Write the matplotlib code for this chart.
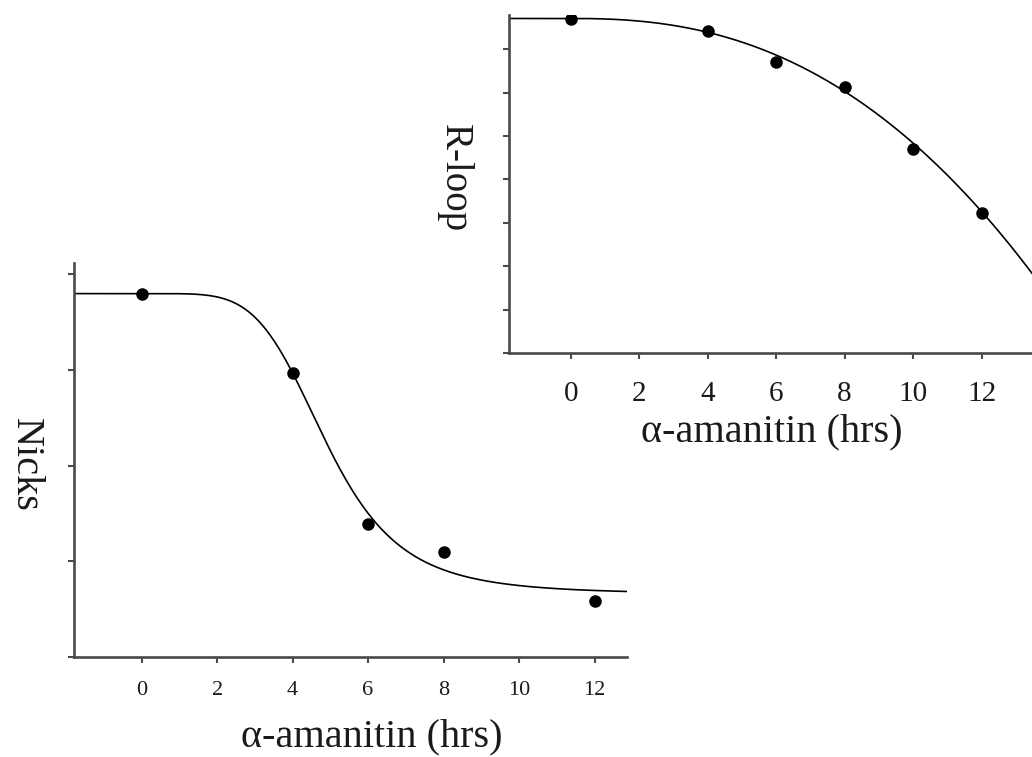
import numpy as np
import matplotlib
matplotlib.use("Agg")
import matplotlib.pyplot as plt

plt.rcParams['font.family'] = ['Liberation Serif', 'DejaVu Serif']

hours = [0, 4, 6, 8, 12]
nicks = [3.80, 2.97, 1.39, 1.10, 0.59]

rloop_hours = [0, 4, 6, 8, 10, 12]
rloop = [7.70, 7.42, 6.70, 6.12, 4.70, 3.23]

tick_hours = [0, 2, 4, 6, 8, 10, 12]

# fit parameters of the drawn curves
nick_top, nick_bottom, nick_x0, nick_p = 3.80, 0.66, 4.91, 5.0   # logistic fit
rloop_top, rloop_k, rloop_p = 7.71, 0.01144, 2.4                  # power-law decay

spine_col = '#4a4a4a'
text_col = '#1a1a1a'


def style_axes(ax, tick_size, pad):
    for side in ['top', 'right']:
        ax.spines[side].set_visible(False)
    for side in ['left', 'bottom']:
        ax.spines[side].set_linewidth(1.9)
        ax.spines[side].set_color(spine_col)
    ax.tick_params(direction='out', length=4, width=1.5, color=spine_col,
                   labelsize=tick_size, labelcolor=text_col, pad=pad)
    ax.tick_params(axis='y', labelleft=False)
    ax.set_xticks(tick_hours)


fig = plt.figure(figsize=(10.32, 7.57), dpi=100)

# --- bottom-left: Nicks ---
ax1 = fig.add_axes([74 / 1032, 100 / 757, 553 / 1032, 394 / 757])
xlim1 = (-1.79, 12.86)
xs = np.linspace(xlim1[0], xlim1[1], 400)
xc = np.clip(xs, 0, None)
ax1.plot(xs, nick_bottom + (nick_top - nick_bottom) / (1 + (xc / nick_x0) ** nick_p),
         color='black', lw=1.2)
ax1.plot(hours, nicks, 'o', color='black', ms=8)
ax1.set_xlim(*xlim1)
ax1.set_ylim(0, 4.12)
ax1.set_yticks([0, 1, 2, 3, 4])
style_axes(ax1, 16, 13)
ax1.set_xlabel(u'\u03b1-amanitin (hrs)', fontsize=29, color=text_col, va='center')
ax1.xaxis.set_label_coords(0.539, -0.203)
ax1.set_ylabel('Nicks', fontsize=29, color=text_col, rotation=270, va='center')
ax1.yaxis.set_label_coords(-0.088, 0.487)

# --- top-right: R-loop (cropped by the right edge) ---
ax2 = fig.add_axes([509 / 1032, 404 / 757, 523 / 1032, 338 / 757])
xlim2 = (-1.80, 13.47)
xs2 = np.linspace(xlim2[0], xlim2[1], 400)
xc2 = np.clip(xs2, 0, None)
ax2.plot(xs2, rloop_top - rloop_k * xc2 ** rloop_p, color='black', lw=1.2)
ax2.plot(rloop_hours, rloop, 'o', color='black', ms=8)
ax2.set_xlim(*xlim2)
ax2.set_ylim(0, 7.79)
ax2.set_yticks(range(8))
style_axes(ax2, 21, 16)
ax2.set_xlabel(u'\u03b1-amanitin (hrs)', fontsize=29, color=text_col, va='center')
ax2.xaxis.set_label_coords(0.503, -0.234)
ax2.set_ylabel('R-loop', fontsize=28, color=text_col, rotation=270, va='center')
ax2.yaxis.set_label_coords(-0.104, 0.518)

fig.savefig('out.png', dpi=100)
